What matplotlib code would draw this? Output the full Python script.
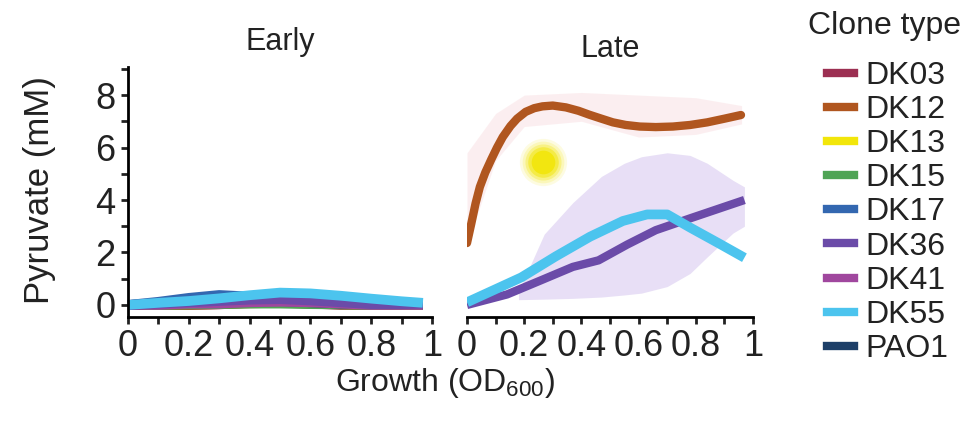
import numpy as np
import matplotlib.pyplot as plt
from matplotlib.lines import Line2D

plt.rcParams['font.family'] = ['Liberation Sans', 'DejaVu Sans']
plt.rcParams['mathtext.fontset'] = 'custom'
plt.rcParams['mathtext.rm'] = 'Liberation Sans'
plt.rcParams['mathtext.it'] = 'Liberation Sans'

# clone types and colours
clones = ['DK03', 'DK12', 'DK13', 'DK15', 'DK17', 'DK36', 'DK41', 'DK55', 'PAO1']
colors = {'DK03': '#9c2f52', 'DK12': '#b0561f', 'DK13': '#f2e60a', 'DK15': '#4fa455',
          'DK17': '#3367b0', 'DK36': '#6b4ba8', 'DK41': '#a0479e', 'DK55': '#4cc4ee',
          'PAO1': '#1d3f68'}

# early phase (all close to zero)
early_x = [0, 0.1, 0.2, 0.3, 0.4, 0.5, 0.6, 0.7, 0.8, 0.9, 0.97]
early_y = {
    'DK03': [0, 0, 0, 0.02, 0.08, 0.1, 0.05, 0, 0, 0, 0],
    'DK12': [0, 0, 0, 0.03, 0.06, 0.08, 0.05, 0.02, 0, 0, 0],
    'DK15': [0, 0, 0.02, 0.03, 0.05, 0.05, 0.03, 0.02, 0, 0, 0],
    'PAO1': [0, 0.05, 0.15, 0.25, 0.2, 0.15, 0.1, 0.05, 0.05, 0.05, 0.05],
    'DK17': [0, 0.12, 0.27, 0.38, 0.32, 0.2, 0.12, 0.08, 0.05, 0.05, 0.05],
    'DK41': [0, 0, 0.05, 0.05, 0.1, 0.12, 0.1, 0.05, 0, 0, 0],
    'DK36': [0, 0.05, 0.1, 0.15, 0.2, 0.22, 0.17, 0.1, 0.03, 0.03, 0.05],
    'DK55': [0, 0.08, 0.15, 0.25, 0.37, 0.47, 0.44, 0.35, 0.24, 0.14, 0.08],
}

# late phase
dk12_x = [0, 0.015, 0.03, 0.045, 0.064, 0.085, 0.105, 0.125, 0.152, 0.175, 0.205, 0.235,
          0.264, 0.3, 0.346, 0.39, 0.428, 0.47, 0.51, 0.555, 0.604, 0.66, 0.72, 0.78, 0.84,
          0.9, 0.958]
dk12_y = [2.36, 3.1, 3.87, 4.5, 5.05, 5.55, 6.0, 6.4, 6.82, 7.1, 7.36, 7.5,
          7.57, 7.6, 7.53, 7.4, 7.25, 7.1, 6.96, 6.86, 6.8, 6.78, 6.8, 6.86, 6.96,
          7.1, 7.24]
dk12_band_x = [0, 0.1, 0.2, 0.4, 0.6, 0.8, 0.96]
dk12_band_lo = [2.3, 5.5, 6.8, 7.0, 6.4, 6.5, 6.9]
dk12_band_hi = [5.8, 7.3, 8.0, 8.1, 8.0, 7.9, 7.6]

dk13_x = [0.265]
dk13_y = [5.45]

dk36_x = [0, 0.14, 0.25, 0.37, 0.46, 0.56, 0.66, 0.78, 0.97]
dk36_y = [0.0, 0.4, 0.9, 1.45, 1.7, 2.3, 2.85, 3.3, 4.0]
dk36_band_x = [0.18, 0.27, 0.37, 0.47, 0.55, 0.61, 0.7, 0.78, 0.84, 0.93, 0.97]
dk36_band_lo = [0.2, 0.22, 0.25, 0.3, 0.38, 0.45, 0.7, 1.2, 1.83, 2.74, 3.0]
dk36_band_hi = [0.5, 2.7, 3.9, 4.9, 5.4, 5.65, 5.8, 5.7, 5.4, 4.75, 4.5]

dk55_x = [0, 0.19, 0.31, 0.43, 0.545, 0.63, 0.7, 0.78, 0.88, 0.97]
dk55_y = [0.1, 1.05, 1.85, 2.6, 3.2, 3.45, 3.45, 2.95, 2.35, 1.8]

W, H = 979, 428
fig = plt.figure(figsize=(W / 100, H / 100), dpi=100)
ax1 = fig.add_axes([128 / W, 1 - 317 / H, 304 / W, 250 / H])
ax2 = fig.add_axes([467 / W, 1 - 317 / H, 286 / W, 250 / H])

for ax in (ax1, ax2):
    ax.set_xlim(0, 1)
    ax.set_ylim(-0.46, 9.07)
    for s in ['top', 'right']:
        ax.spines[s].set_visible(False)
    ax.spines['bottom'].set_linewidth(2)
    ax.spines['left'].set_linewidth(2)
    ax.set_xticks(np.arange(0, 1.01, 0.1))
    ax.set_xticklabels(['0', '', '0.2', '', '0.4', '', '0.6', '', '0.8', '', '1'])
    ax.tick_params(axis='both', direction='out', length=5, width=2, labelsize=26,
                   pad=4, color='#222222', labelcolor='#222222')

ax1.set_yticks(np.arange(0, 10, 1))
ax1.set_yticklabels(['0', '', '2', '', '4', '', '6', '', '8', ''])
ax2.spines['left'].set_visible(False)
ax2.set_yticks([])

for c, ys in early_y.items():
    ax1.plot(early_x, ys, color=colors[c], lw=7, solid_capstyle='butt', clip_on=False)

ax2.fill_between(dk12_band_x, dk12_band_lo, dk12_band_hi, color='#f9dfe2', alpha=0.5, lw=0)
ax2.fill_between(dk36_band_x, dk36_band_lo, dk36_band_hi, color='#d9cbf0', alpha=0.6, lw=0)
ax2.plot(dk12_x, dk12_y, color=colors['DK12'], lw=6, solid_capstyle='round')
# soft glowing point for DK13
for ms, a in [(34, 0.12), (30, 0.18), (26, 0.3), (22, 0.5), (17, 0.9)]:
    ax2.plot(dk13_x, dk13_y, 'o', color=colors['DK13'], ms=ms, alpha=a, mec='none')
ax2.plot(dk36_x, dk36_y, color=colors['DK36'], lw=6, solid_capstyle='butt')
ax2.plot(dk55_x, dk55_y, color=colors['DK55'], lw=7, solid_capstyle='butt')

ax1.set_title('Early', fontsize=22, color='#222222', pad=12)
ax2.set_title('Late', fontsize=22, color='#222222', pad=7)

fig.text(40 / W, 1 - 190 / H, 'Pyruvate (mM)', rotation=90, fontsize=25,
         color='#222222', ha='center', va='center')
fig.text(445 / W, 1 - 383 / H, 'Growth (OD$_{600}$)', fontsize=23,
         color='#222222', ha='center', va='center')

fig.text(885 / W, 1 - 26 / H, 'Clone type', fontsize=23, color='#222222',
         ha='center', va='center')
handles = [Line2D([0], [0], color=colors[c], lw=6) for c in clones]
leg = fig.legend(handles, clones, loc='upper left', bbox_to_anchor=(814 / W, 1 - 48 / H),
                 frameon=False, fontsize=23, handlelength=0.85, handletextpad=0.35,
                 labelspacing=0.13, borderaxespad=0, borderpad=0.4)
for t in leg.get_texts():
    t.set_color('#222222')

fig.savefig('out.png', dpi=100)
